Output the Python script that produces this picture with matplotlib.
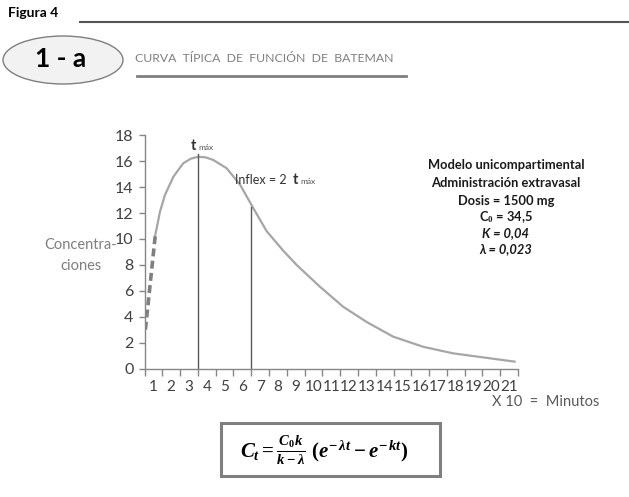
import matplotlib
matplotlib.use('Agg')
import matplotlib.pyplot as plt
from matplotlib.patches import Ellipse, Rectangle

plt.rcParams['font.family'] = ['Lato', 'DejaVu Sans']
plt.rcParams['mathtext.fontset'] = 'custom'
plt.rcParams['mathtext.it'] = 'Liberation Serif:italic:bold'
plt.rcParams['mathtext.rm'] = 'Liberation Serif:bold'

# curve (x in category-axis units, y = concentration)
curve_x = [0.59, 0.87, 1.15, 1.62, 2.18, 2.6, 3.02, 3.45, 3.87, 4.62, 5.37, 6.11, 6.87,
           7.80, 8.55, 9.86, 11.17, 12.48, 13.98, 15.66, 17.35, 19.03, 20.81]
curve_y = [10.2, 12.1, 13.4, 14.8, 15.85, 16.2, 16.35, 16.3, 16.1, 15.46, 14.2, 12.4, 10.6,
           9.1, 8.0, 6.32, 4.77, 3.6, 2.46, 1.68, 1.17, 0.86, 0.53]
# absorption part drawn dashed
dash_x = [0.05, 0.6]
dash_y = [3.0, 10.2]
# vertical markers: t max and inflexion
vline_x = [3, 6]
vline_top = [16.6, 12.5]
categories = [str(i) for i in range(1, 22)]
y_ticks = list(range(0, 19, 2))

info_lines = ['Modelo unicompartimental', 'Administración extravasal',
              'Dosis = 1500 mg', 'C$_0$ = 34,5', 'K = 0,04', 'λ = 0,023']

W, H = 629, 497
fig = plt.figure(figsize=(W / 100, H / 100), dpi=100)
fig.patch.set_facecolor('white')

ax = fig.add_axes([144.5 / W, 1 - 368.5 / H, (518 - 144.5) / W, (368.5 - 135.4) / H])
ax.plot(curve_x, curve_y, color='#a6a6a6', lw=1.6, solid_joinstyle='round')
ax.plot(dash_x, dash_y, color='#7f7f7f', lw=2.6, dashes=(2.2, 1.2))
for xv, top in zip(vline_x, vline_top):
    ax.plot([xv, xv], [0, top], color='#595959', lw=1.0)

ax.set_xlim(0, 21)
ax.set_ylim(0, 18)
ax.set_yticks(y_ticks)
ax.set_xticks(range(0, 22))
ax.set_xticklabels([])
ax.set_xticks([i + 0.5 for i in range(21)], minor=True)
ax.set_xticklabels(categories, minor=True)
ax.tick_params(axis='x', which='minor', length=0, pad=8, labelsize=11, labelcolor='#404040')
ax.tick_params(axis='x', which='major', length=5, color='#868686', width=1)
ax.tick_params(axis='y', length=4, color='#868686', width=1, labelsize=11.5,
               labelcolor='#404040', pad=4)
for s in ['top', 'right']:
    ax.spines[s].set_visible(False)
for s in ['left', 'bottom']:
    ax.spines[s].set_color('#868686')
    ax.spines[s].set_linewidth(1)

# annotations inside plot
fig.text(191 / W, 1 - 146 / H, 't', fontsize=10.5, fontweight='bold', color='#333333',
         va='center', ha='left')
fig.text(198 / W, 1 - 147 / H, 'máx', fontsize=6, color='#555555', va='center', ha='left')
fig.text(235 / W, 1 - 180 / H, 'Inflex = 2', fontsize=9, color='#333333', va='center', ha='left')
fig.text(293 / W, 1 - 180 / H, 't', fontsize=10.5, fontweight='bold', color='#333333',
         va='center', ha='left')
fig.text(300 / W, 1 - 181 / H, 'máx', fontsize=6, color='#555555', va='center', ha='left')

ys = [165, 183, 201, 217, 233, 249]
for i, (line, yy) in enumerate(zip(info_lines, ys)):
    style = 'italic' if i >= 4 else 'normal'
    fig.text(506 / W, 1 - yy / H, line, fontsize=9.3, fontweight='bold', style=style,
             color='#1a1a1a', ha='center', va='center')

fig.text(81 / W, 1 - 245 / H, 'Concentra-', fontsize=10.5, color='#7f7f7f', ha='center', va='center')
fig.text(81 / W, 1 - 266 / H, 'ciones', fontsize=10.5, color='#7f7f7f', ha='center', va='center')
fig.text(492 / W, 1 - 402 / H, 'X 10  =  Minutos', fontsize=10.5, color='#595959',
         ha='left', va='center')

# header
fig.text(8 / W, 1 - 13 / H, 'Figura 4', fontsize=10, fontweight='bold', color='black',
         ha='left', va='center')
fig.add_artist(plt.Line2D([80 / W, 1.0], [1 - 22 / H, 1 - 22 / H], color='#555555', lw=1.5))
fig.add_artist(Ellipse((63 / W, 1 - 60 / H), 120 / W, 48 / H, facecolor='#f2f2f2',
                       edgecolor='#7f7f7f', lw=1))
fig.text(61 / W, 1 - 59 / H, '1 - a', fontsize=19, fontweight='bold', color='black',
         ha='center', va='center')
fig.text(135 / W, 1 - 59 / H, 'CURVA  TÍPICA  DE  FUNCIÓN  DE  BATEMAN', fontsize=8.8,
         color='#7f7f7f', ha='left', va='center')
fig.add_artist(plt.Line2D([137 / W, 406 / W], [1 - 76 / H, 1 - 76 / H], color='#7f7f7f', lw=2))

# formula box
fig.add_artist(Rectangle((221 / W, 1 - 476 / H), 219 / W, 53 / H, facecolor='white',
                         edgecolor='#7f7f7f', lw=2.2))
fig.text(324 / W, 1 - 450 / H,
         r'$C_t = \frac{C_0 k}{k - \lambda}\ (e^{-\,\lambda t} - e^{-\,k t})$',
         fontsize=15, color='black', ha='center', va='center')

fig.savefig('out.png', dpi=100)
